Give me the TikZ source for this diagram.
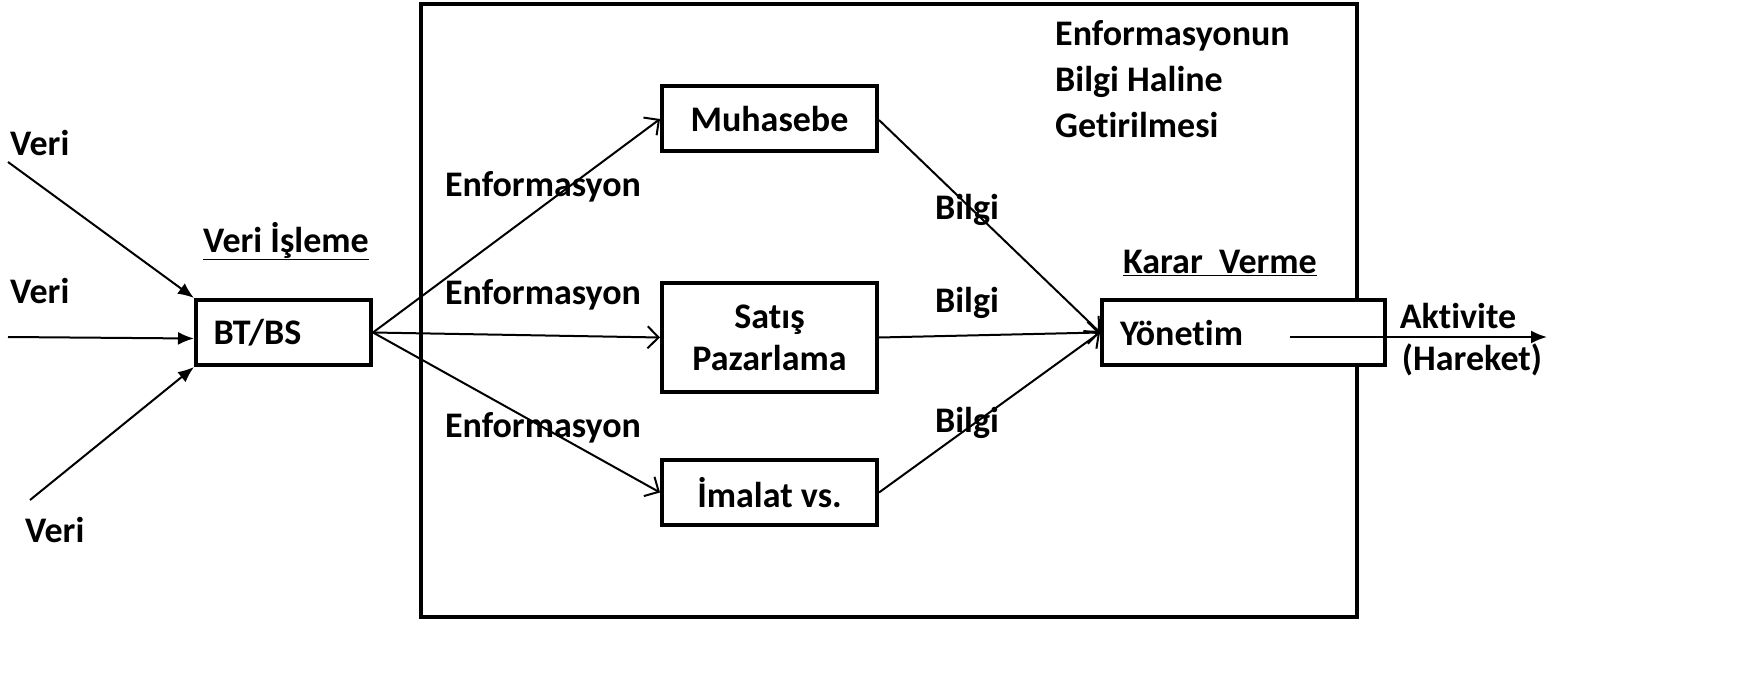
\documentclass[tikz,border=0pt]{standalone}
\usepackage{fontspec}
\setmainfont{Carlito}[Ligatures=CommonOff]
\usetikzlibrary{arrows.meta}
\begin{document}
\begin{tikzpicture}[x=1pt,y=-1pt,
  every node/.style={font=\fontsize{36}{44}\selectfont\bfseries, inner sep=0pt},
  box/.style={draw, line width=4pt, fill=white, minimum height=65pt},
  inarrow/.style={line width=2pt, -{Latex[length=16pt,width=13pt]}},
  flow/.style={line width=2pt, -{Straight Barb[length=11pt,width=22pt,line width=2pt]}},
  outarrow/.style={line width=2pt, -{Latex[length=16pt,width=13pt]}}
]
\useasboundingbox (0,0) rectangle (1761,695);
% big frame
\draw[line width=4pt] (421,4) rectangle (1357,617);

% boxes
\node[box, minimum width=175pt, text width=140pt, align=left] (bt) at (283.5,332.5) {BT/BS};
\node[box, minimum width=215pt, align=center] (muh) at (769.5,119) {Muhasebe};
\node[box, minimum width=215pt, minimum height=109pt, align=center, font=\fontsize{36}{42}\selectfont\bfseries] (sat) at (769.5,337.5) {Satış\\Pazarlama};
\node[box, minimum width=215pt, align=center] (ima) at (769.5,492.5) {İmalat vs.};
\node[box, minimum width=283pt, text width=247pt, align=left] (yon) at (1243.5,332.5) {Yönetim};

% left inputs
\node[anchor=west] (v1) at (10,143) {Veri};
\node[anchor=west] (v2) at (10,291) {Veri};
\node[anchor=west] (v3) at (25,530) {Veri};
\coordinate (s1) at (8,162);
\coordinate (s2) at (8,337);
\coordinate (s3) at (30,500);
\draw[inarrow] (s1) -- (bt.north west);
\draw[inarrow] (s2) -- ([yshift=-6pt]bt.west);
\draw[inarrow] (s3) -- (bt.south west);

% headings
\node (vi) at (286,241) {\underline{Veri İşleme}};
\node (kv) at (1220,263) {\underline{Karar\ \ Verme}};
\node[anchor=north west, align=left, font=\fontsize{36}{46}\selectfont\bfseries] (eb) at (1055,20) {Enformasyonun\\Bilgi Haline\\Getirilmesi};

% flows from BT/BS
\draw[flow] (bt.east) -- (muh.west);
\draw[flow] (bt.east) -- (sat.west);
\draw[flow] (bt.east) -- (ima.west);
\node (e1) at (543,187) {Enformasyon};
\node (e2) at (543,295) {Enformasyon};
\node (e3) at (543,428) {Enformasyon};

% flows to Yönetim
\draw[flow] ([yshift=-1pt]muh.east) -- (yon.west);
\draw[flow] (sat.east) -- (yon.west);
\draw[flow] (ima.east) -- (yon.west);
\node (b1) at (967,210) {Bilgi};
\node (b2) at (967,303) {Bilgi};
\node (b3) at (967,423) {Bilgi};

% output
\coordinate (os) at (1290,337);
\coordinate (oe) at (1547,337);
\draw[outarrow] (os) -- (oe);
\node (ak) at (1458,316) {Aktivite};
\node (ha) at (1472,360) {(Hareket)};
\end{tikzpicture}
\end{document}
